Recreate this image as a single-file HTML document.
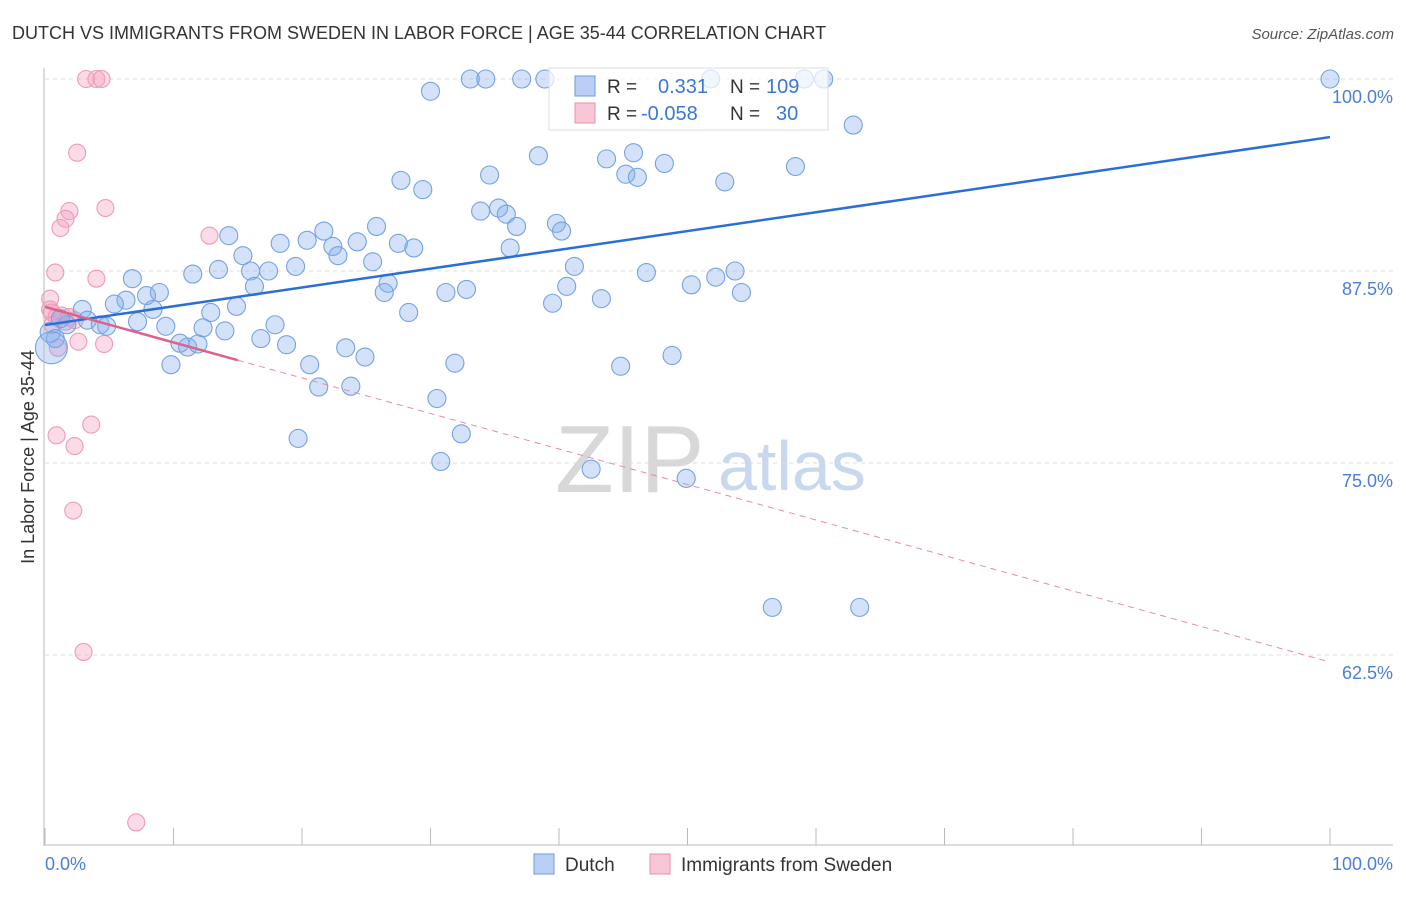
<!DOCTYPE html>
<html><head><meta charset="utf-8"><style>
body{margin:0;background:#fff;font-family:"Liberation Sans",sans-serif}
svg text{font-family:"Liberation Sans",sans-serif}
</style></head><body>
<svg id="c" width="1406" height="892" xmlns="http://www.w3.org/2000/svg">
<text x="12" y="39" font-size="18" fill="#333">DUTCH VS IMMIGRANTS FROM SWEDEN IN LABOR FORCE | AGE 35-44 CORRELATION CHART</text>
<text x="1394" y="39" font-size="15" fill="#555" font-style="italic" text-anchor="end">Source: ZipAtlas.com</text>
<text transform="translate(34,457) rotate(-90)" font-size="18" fill="#333" text-anchor="middle">In Labor Force | Age 35-44</text>
<text x="555" y="492" font-size="96" fill="#d8d8d8" font-family="Liberation Serif">ZIP</text>
<text x="718" y="490" font-size="70" fill="#c8d8ee">atlas</text>
<g id="grid"></g><g id="pts"></g><g id="lines"></g>
<line x1="44" y1="68" x2="44" y2="846" stroke="#bbb"/>
<line x1="44" y1="845" x2="1393" y2="845" stroke="#bbb"/>
<text x="45" y="870" font-size="18" fill="#4a7fd6">0.0%</text>
<text x="1393" y="870" font-size="18" fill="#4a7fd6" text-anchor="end">100.0%</text>
<g>
<rect x="549" y="68" width="279" height="62" fill="rgba(255,255,255,0.7)" stroke="#ddd"/>
<rect x="575" y="76" width="20" height="20" fill="#b9d0f4" stroke="#6b9ae0"/>
<rect x="575" y="103" width="20" height="20" fill="#f9c6d6" stroke="#e890ad"/>
<text x="607" y="93" font-size="19" fill="#333">R =</text><text x="658" y="93" font-size="20" fill="#3a78d8">0.331</text>
<text x="730" y="93" font-size="19" fill="#333">N =</text><text x="766" y="93" font-size="20" fill="#3a78d8">109</text>
<text x="607" y="120" font-size="19" fill="#333">R =</text><text x="641" y="120" font-size="20" fill="#3a78d8">-0.058</text>
<text x="730" y="120" font-size="19" fill="#333">N =</text><text x="776" y="120" font-size="20" fill="#3a78d8">30</text>
</g>
<g>
<rect x="534" y="854" width="20" height="20" fill="#b9d0f4" stroke="#6b9ae0"/>
<text x="565" y="871" font-size="19" fill="#333">Dutch</text>
<rect x="650" y="854" width="20" height="20" fill="#f9c6d6" stroke="#e890ad"/>
<text x="681" y="871" font-size="19" fill="#333">Immigrants from Sweden</text>
</g>
</svg>
<script>
const yTicks=[100,87.5,75,62.5];
const yTickLabels=["100.0%","87.5%","75.0%","62.5%"];
const xTicks=[0,10,20,30,40,50,60,70,80,90,100];
const dutchX=[30.0,33.1,34.3,37.1,38.9,51.8,59.1,60.6,100,62.9,38.4,43.7,45.8,48.2,45.2,46.1,58.4,34.6,27.7,29.4,52.9,33.9,35.3,35.9,36.7,39.8,40.2,25.8,21.7,14.3,18.3,20.4,22.4,24.3,27.5,28.7,36.2,22.8,15.4,25.5,19.5,17.4,16.0,13.5,11.5,6.8,16.3,26.7,26.4,41.2,46.8,52.2,53.7,50.3,54.2,40.6,43.3,32.8,31.2,39.5,8.9,7.9,6.3,5.4,2.9,14.9,12.9,8.4,28.3,17.9,7.2,9.4,12.3,14.0,4.3,4.8,3.3,1.7,1.2,16.8,18.8,10.5,11.1,11.9,23.4,24.9,20.6,31.9,48.8,44.8,9.8,21.3,23.8,30.5,19.7,32.4,30.8,42.5,49.9,56.6,63.4,0.4,0.8,0.5];
const dutchY=[99.2,100,100,100,100,100,100,100,100,97.0,95.0,94.8,95.2,94.5,93.8,93.6,94.3,93.75,93.4,92.8,93.3,91.4,91.6,91.2,90.4,90.6,90.1,90.4,90.1,89.8,89.3,89.5,89.1,89.4,89.3,89.0,89.0,88.5,88.5,88.1,87.8,87.5,87.5,87.6,87.3,87.0,86.5,86.7,86.1,87.8,87.4,87.1,87.5,86.6,86.1,86.5,85.7,86.3,86.1,85.4,86.1,85.9,85.6,85.35,85.0,85.2,84.8,85.0,84.8,84.0,84.2,83.9,83.8,83.6,84.0,83.9,84.3,84.0,84.4,83.1,82.7,82.8,82.55,82.75,82.5,81.9,81.4,81.5,82.0,81.3,81.4,79.95,80.0,79.2,76.6,76.9,75.1,74.6,74.0,65.6,65.6,83.5,83.1,82.5];
const dutchBigIndex=[101,102,103];
const dutchBigR=[10,9,16];
const swedenX=[3.2,4.0,4.4,2.5,4.7,1.9,1.6,1.2,12.8,0.8,4.0,0.4,0.4,0.5,0.9,1.3,1.9,2.3,1.6,4.6,2.6,1.0,0.9,3.6,2.3,2.2,3.0,7.1,0.6];
const swedenY=[100,100,100,95.2,91.6,91.4,90.9,90.3,89.8,87.4,87.0,85.7,85.0,84.8,84.5,84.6,84.5,84.3,84.2,82.75,82.9,82.5,76.8,77.5,76.1,71.9,62.7,51.6,84.0];
const dutchFit=[83.98,96.22];
const swedenFit=[85.16,62.04];
const X=v=>45+v*12.85, Y=v=>79+(100-v)*15.36;
const NS="http://www.w3.org/2000/svg";
function mk(t,a,p){const e=document.createElementNS(NS,t);for(const k in a)e.setAttribute(k,a[k]);p.appendChild(e);return e;}
const grid=document.getElementById('grid'),pts=document.getElementById('pts'),lines=document.getElementById('lines'),svg=document.getElementById('c');
yTicks.forEach((t,i)=>{
 const l=mk('line',{x1:45,x2:1393,y1:Y(t),y2:Y(t),stroke:'#ddd','stroke-dasharray':'4,4'},grid);
 
 
 const tx=mk('text',{x:1393,y:Y(t)+24,'font-size':18,fill:'#4a7fd6','text-anchor':'end'},svg);
 tx.textContent=yTickLabels[i];
 
 
});
xTicks.forEach(t=>{
 const l=mk('line',{x1:X(t),x2:X(t),y1:828,y2:845,stroke:'#bbb'},grid);
 
 
});
swedenX.forEach((x,i)=>{
 const c=mk('circle',{cx:X(x),cy:Y(swedenY[i]),r:8.5,fill:'rgba(245,165,195,0.4)',stroke:'#ee9ab7','stroke-width':1.1},pts);
 
 
});
dutchX.forEach((x,i)=>{
 const bi=dutchBigIndex.indexOf(i);
 const r=bi>=0?dutchBigR[bi]:9;
 const c=mk('circle',{cx:X(x),cy:Y(dutchY[i]),r:r,fill:'rgba(130,172,238,0.35)',stroke:'#74a2e4','stroke-width':1.1},pts);
 
 
});
const sf=v=>swedenFit[0]+(swedenFit[1]-swedenFit[0])*v/100;
const df=v=>dutchFit[0]+(dutchFit[1]-dutchFit[0])*v/100;
let l1=mk('line',{x1:X(0),y1:Y(df(0)),x2:X(100),y2:Y(df(100)),stroke:'#2a6fd6','stroke-width':2.5},lines);


let l2=mk('line',{x1:X(0),y1:Y(sf(0)),x2:X(15),y2:Y(sf(15)),stroke:'#e0608a','stroke-width':2.5},lines);


let l3=mk('line',{x1:X(15),y1:Y(sf(15)),x2:X(100),y2:Y(sf(100)),stroke:'#e88aa8','stroke-width':1,'stroke-dasharray':'6,5'},lines);


</script>
</body></html>
